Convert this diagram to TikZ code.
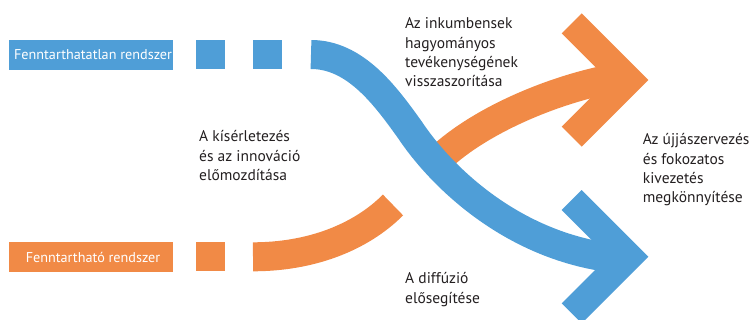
\documentclass[tikz,border=0pt]{standalone}
\usepackage{fontspec}
\setmainfont{PT Sans}
\definecolor{bl}{HTML}{4F9ED7}
\definecolor{orng}{HTML}{F18A46}
\definecolor{tx}{HTML}{231F20}
\begin{document}
\begin{tikzpicture}[x=1pt,y=-1pt,
  band/.style={line width=29pt},
  chev/.style={line width=28.3pt, line join=miter, miter limit=10},
  lbl/.style={inner sep=0pt, minimum width=164pt, minimum height=30pt, text=white, font=\fontsize{14.2}{17}\selectfont},
  sq/.style={inner sep=0pt, minimum size=29pt},
  txt/.style={anchor=north west, inner sep=0pt, align=left, text=tx, font=\fontsize{15.5}{19.3}\selectfont}]
\useasboundingbox (0,0) rectangle (749,320);
% labels and squares
\node[lbl, fill=bl] (lblA) at (91,55) {\hspace*{4pt}Fenntarthatatlan rendszer};
\node[sq, fill=bl] (sqA1) at (210.5,54.5) {};
\node[sq, fill=bl] (sqA2) at (267.5,54.5) {};
\node[lbl, fill=orng] (lblB) at (91,257) {\hspace*{4pt}Fenntartható rendszer};
\node[sq, fill=orng] (sqB1) at (210.5,256.8) {};
% coordinates
\coordinate (bS) at (311,54.5);
\coordinate (bM) at (410,130);
\coordinate (bE) at (612,258);
\coordinate (bA1) at (571.7,200);
\coordinate (bV) at (628.3,256.7);
\coordinate (bA2) at (571.7,313.4);
\coordinate (oS) at (253,256.8);
\coordinate (oG) at (393,205);
\coordinate (oR) at (436,162);
\coordinate (oE) at (615,78);
\coordinate (oA1) at (571.7,23.4);
\coordinate (oV) at (628.3,80);
\coordinate (oA2) at (571.7,136.6);
% orange
\draw[band, orng] (oS) .. controls (310,256.8) and (360,238) .. (oG);
\draw[band, orng] (oR) .. controls (475,123) and (550,90) .. (oE);
\draw[chev, orng] (oA1) -- (oV) -- (oA2);
% blue
\draw[band, bl] (bS) .. controls (355,54.5) and (385,95) .. (bM) .. controls (440,175) and (510,245) .. (bE);
\draw[chev, bl] (bA1) -- (bV) -- (bA2);
% texts
\node[txt] (t1) at (405,17.5) {Az inkumbensek\\hagyományos\\tevékenységének\\visszaszorítása};
\node[txt] (t2) at (199,130.5) {A kísérletezés\\és az innováció\\előmozdítása};
\node[txt] (t3) at (642.7,133.5) {Az újjászervezés\\és fokozatos\\kivezetés\\megkönnyítése};
\node[txt] (t4) at (405,272.5) {A diffúzió\\elősegítése};
\end{tikzpicture}
\end{document}
